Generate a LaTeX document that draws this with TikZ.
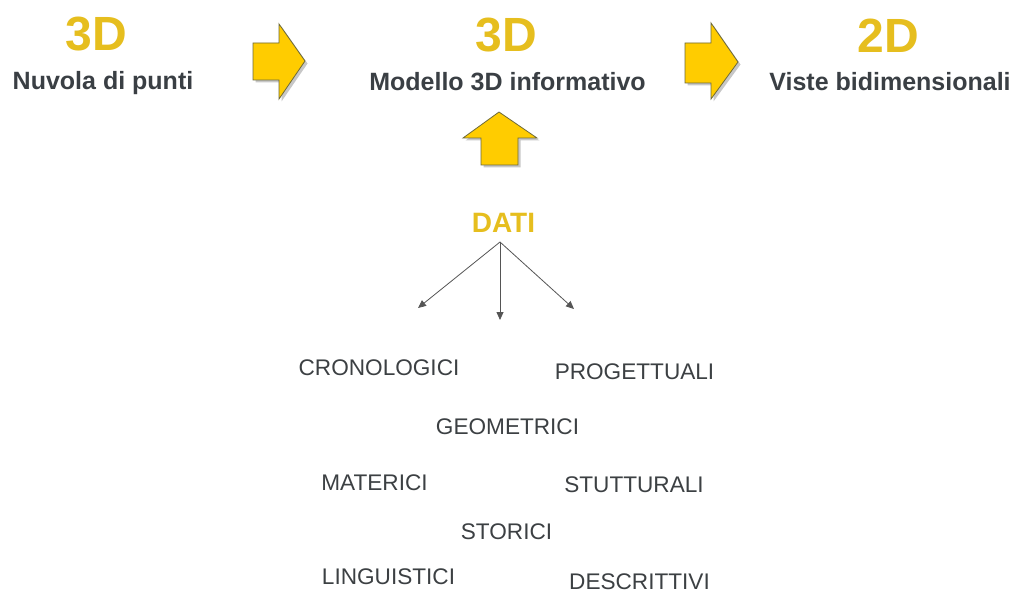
\documentclass[tikz,border=0pt]{standalone}
\usepackage{fontspec}
\setmainfont{Liberation Sans}
\usetikzlibrary{arrows.meta}
\definecolor{gold}{HTML}{E6BE1E}
\definecolor{arrowfill}{HTML}{FFCC00}
\definecolor{arrowedge}{HTML}{6E6A3A}
\definecolor{darktext}{HTML}{3A3F44}
\definecolor{labeltext}{HTML}{3C4043}
\definecolor{linegray}{HTML}{555555}
\begin{document}
\begin{tikzpicture}[x=1pt,y=-1pt,
  big/.style={inner sep=0pt, text=gold, font=\fontsize{48}{52}\selectfont\bfseries},
  head/.style={inner sep=0pt, anchor=base, text=darktext, font=\fontsize{25}{29}\selectfont\bfseries},
  lab/.style={inner sep=0pt, text=labeltext, font=\fontsize{22.6}{26}\selectfont},
  blockarrow/.style={fill=arrowfill, draw=arrowedge, line width=0.8pt, line join=miter},
  shadowarrow/.style={fill=black, opacity=0.22},
  thin/.style={draw=linegray, line width=0.8pt, -{Triangle[length=8pt,width=7pt]}}
]
\useasboundingbox (0,0) rectangle (1016,593);
\fill[white] (0,0) rectangle (1016,593);

% headings
\node[big] (t1) at (96,34.5) {3D};
\node[big] (t2) at (506,35) {3D};
\node[big] (t3) at (888,36) {2D};
\node[head] (h1) at (103,90) {Nuvola di punti};
\node[head] (h2) at (507.5,90.5) {Modello 3D informativo};
\node[head] (h3) at (890,90.5) {Viste bidimensionali};

% block arrows (shadows)
\fill[shadowarrow] (255.5,45.5) -- (281.5,45.5) -- (281.5,26.5) -- (307.5,63.5) -- (281.5,101.5) -- (281.5,82.5) -- (255.5,82.5) -- cycle;
\fill[shadowarrow] (687.5,45.5) -- (713.5,45.5) -- (713.5,25.5) -- (740.5,64.5) -- (713.5,101.5) -- (713.5,85.5) -- (687.5,85.5) -- cycle;
\fill[shadowarrow] (501.5,114.5) -- (539.5,140.5) -- (520.5,140.5) -- (520.5,167.5) -- (483.5,167.5) -- (483.5,140.5) -- (465.5,140.5) -- cycle;
% block arrows
\path[blockarrow] (253,43) -- (279,43) -- (279,24) -- (305,61) -- (279,99) -- (279,80) -- (253,80) -- cycle;
\path[blockarrow] (685,43) -- (711,43) -- (711,23) -- (738,62) -- (711,99) -- (711,83) -- (685,83) -- cycle;
\path[blockarrow] (499,112) -- (537,138) -- (518,138) -- (518,165) -- (481,165) -- (481,138) -- (463,138) -- cycle;

% DATI
\node[inner sep=0pt, text=gold, font=\fontsize{28}{32}\selectfont\bfseries] (dati) at (503.5,223) {DATI};
\coordinate (o) at (500,242);
\coordinate (eL) at (418,308);
\coordinate (eM) at (500,320);
\coordinate (eR) at (574,309);
\draw[thin] (o) -- (eL);
\draw[thin] (o) -- (eM);
\draw[thin] (o) -- (eR);

% labels
\node[lab] (cron) at (379,368) {CRONOLOGICI};
\node[lab] (prog) at (634.5,372) {PROGETTUALI};
\node[lab] (geom) at (507.5,427) {GEOMETRICI};
\node[lab] (mate) at (374.5,483) {MATERICI};
\node[lab] (stut) at (634,485) {STUTTURALI};
\node[lab] (stor) at (506.5,532) {STORICI};
\node[lab] (ling) at (388.5,577) {LINGUISTICI};
\node[lab] (desc) at (639.5,582) {DESCRITTIVI};
\end{tikzpicture}
\end{document}
